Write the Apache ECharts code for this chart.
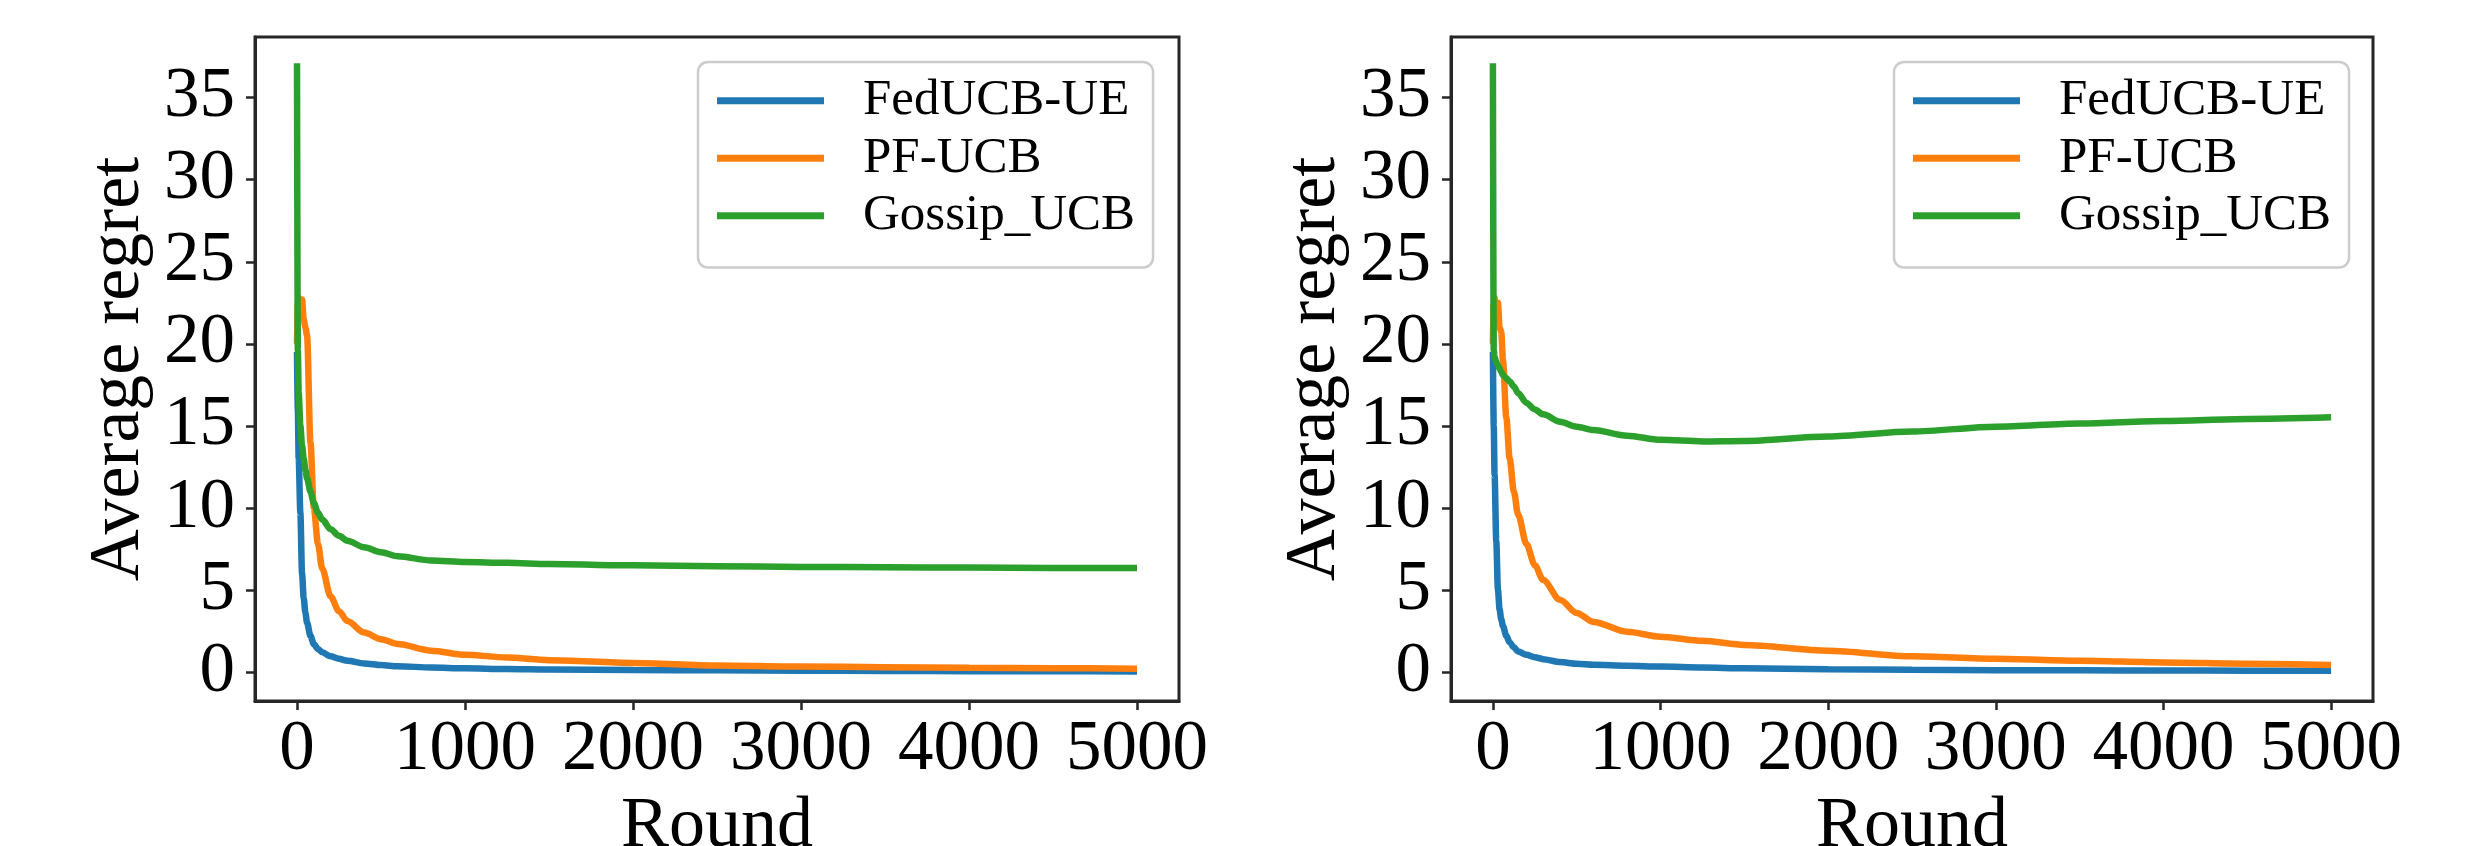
<!DOCTYPE html>
<html>
<head>
<meta charset="utf-8">
<script src="https://cdn.jsdelivr.net/npm/echarts@6/dist/echarts.min.js"></script>
<style>
  html, body { margin: 0; padding: 0; background: #ffffff; }
  #chart { width: 2490px; height: 846px; }
</style>
</head>
<body>
<div id="chart"></div>
<script>
// ---- data ----
const seriesNames = ['FedUCB-UE', 'PF-UCB', 'Gossip_UCB'];
const xTicks = [0, 1000, 2000, 3000, 4000, 5000];
const yTicks = [0, 5, 10, 15, 20, 25, 30, 35];

const roundsL = [0, 5, 10, 20, 30, 40, 50, 60, 80, 100, 125, 150, 200, 250, 300, 400, 500, 600, 800, 1000, 1250, 1500, 2000, 2500, 3000, 3500, 4000, 4500, 5000];
const fedL    = [19.5, 16, 13, 9.7, 6.0, 4.5, 3.6, 3.0, 2.2, 1.7, 1.4, 1.2, 0.95, 0.8, 0.68, 0.52, 0.42, 0.35, 0.27, 0.22, 0.18, 0.15, 0.12, 0.1, 0.08, 0.06, 0.05, 0.04, 0.03];
const pfL     = [20, 22.5, 22.8, 22.0, 22.7, 21.5, 21.0, 20.5, 14, 10, 7.8, 6.3, 4.6, 3.7, 3.1, 2.4, 2.0, 1.7, 1.3, 1.05, 0.88, 0.72, 0.55, 0.4, 0.33, 0.29, 0.25, 0.23, 0.2];
const gossipL = [37.1, 19.6, 17, 15, 13.8, 13, 12.3, 11.8, 11, 10.3, 9.7, 9.3, 8.7, 8.3, 8.0, 7.6, 7.3, 7.05, 6.8, 6.7, 6.65, 6.58, 6.5, 6.45, 6.4, 6.38, 6.36, 6.34, 6.33];

const roundsR = [0, 5, 10, 20, 30, 40, 50, 60, 80, 100, 125, 150, 200, 250, 300, 400, 500, 600, 800, 1000, 1250, 1500, 2000, 2500, 3000, 3500, 4000, 4500, 5000];
const fedR    = [19.5, 15, 12, 8, 5, 3.8, 3.2, 2.8, 2.2, 1.8, 1.5, 1.25, 1.05, 0.9, 0.78, 0.6, 0.5, 0.44, 0.38, 0.33, 0.27, 0.22, 0.17, 0.13, 0.11, 0.1, 0.09, 0.08, 0.07];
const pfR     = [20, 22.5, 22.8, 22.0, 22.5, 21.0, 20.7, 19, 15.5, 13, 11, 9.6, 7.8, 6.5, 5.6, 4.4, 3.6, 3.05, 2.45, 2.15, 1.9, 1.65, 1.3, 0.95, 0.8, 0.68, 0.58, 0.5, 0.43];
const gossipR = [37.1, 19.6, 19.2, 18.9, 18.7, 18.5, 18.3, 18.1, 17.9, 17.7, 17.4, 17.0, 16.4, 16.0, 15.7, 15.25, 14.95, 14.75, 14.4, 14.15, 14.05, 14.08, 14.35, 14.65, 14.95, 15.15, 15.3, 15.42, 15.52];

// ---- styling ----
const colors = ['#1f77b4', '#ff7f0e', '#2ca02c'];
const FONT = '"Liberation Serif", "Times New Roman", serif';
const AXIS_COLOR = '#262626';

function pairs(xs, ys) { return xs.map((x, i) => [x, ys[i]]); }

const grids = [
  { left: 255, top: 37, width: 924, height: 664 },
  { left: 1451, top: 37, width: 922, height: 664 }
];

function makeXAxis(gi) {
  return {
    type: 'value', gridIndex: gi, min: -250, max: 5250,
    name: 'Round', nameLocation: 'middle', nameGap: 84,
    nameTextStyle: { fontFamily: FONT, fontSize: 72, color: '#000' },
    axisLine: { show: true, onZero: false, lineStyle: { color: AXIS_COLOR, width: 3 } },
    axisTick: { show: true, inside: false, length: 9, customValues: xTicks, lineStyle: { color: AXIS_COLOR, width: 2.5 } },
    axisLabel: { show: true, customValues: xTicks, margin: 14, fontFamily: FONT, fontSize: 71, color: '#000',
                 formatter: v => String(v) },
    splitLine: { show: false }
  };
}
function makeYAxis(gi) {
  return {
    type: 'value', gridIndex: gi, min: -1.77, max: 38.7,
    name: 'Average regret', nameLocation: 'middle', nameGap: 100, nameRotate: 90,
    nameTextStyle: { fontFamily: FONT, fontSize: 72, color: '#000' },
    axisLine: { show: true, onZero: false, lineStyle: { color: AXIS_COLOR, width: 3 } },
    axisTick: { show: true, inside: false, length: 9, customValues: yTicks, lineStyle: { color: AXIS_COLOR, width: 2.5 } },
    axisLabel: { show: true, customValues: yTicks, margin: 20, fontFamily: FONT, fontSize: 71, color: '#000',
                 formatter: v => String(v) },
    splitLine: { show: false }
  };
}
function makeLegend(left) {
  return {
    orient: 'vertical', left: left, top: 62,
    data: seriesNames,
    icon: 'rect', itemWidth: 107, itemHeight: 7, itemGap: 0,
    padding: [10, 18, 23, 19],
    backgroundColor: 'rgba(255,255,255,0.8)',
    borderColor: '#cccccc', borderWidth: 2.5, borderRadius: 10,
    textStyle: { fontFamily: FONT, fontSize: 51, color: '#000', lineHeight: 57.5, padding: [0, 0, 0, 34] }
  };
}
function makeSeries(name, gi, data, ci) {
  return {
    name: name, type: 'line', xAxisIndex: gi, yAxisIndex: gi,
    data: data, symbol: 'none', smooth: 0.3, smoothMonotone: 'x',
    lineStyle: { color: colors[ci], width: 6.5 },
    itemStyle: { color: colors[ci] },
    emphasis: { disabled: true }, animation: false
  };
}

const chart = echarts.init(document.getElementById('chart'), null, { renderer: 'canvas' });
chart.setOption({
  backgroundColor: '#ffffff',
  animation: false,
  grid: grids.map(g => Object.assign({ show: true, borderColor: AXIS_COLOR, borderWidth: 3,
                                       backgroundColor: 'transparent', containLabel: false,
                                       outerBoundsMode: 'none' }, g)),
  xAxis: [makeXAxis(0), makeXAxis(1)],
  yAxis: [makeYAxis(0), makeYAxis(1)],
  legend: [makeLegend(698), makeLegend(1894)],
  series: [
    makeSeries(seriesNames[0], 0, pairs(roundsL, fedL), 0),
    makeSeries(seriesNames[1], 0, pairs(roundsL, pfL), 1),
    makeSeries(seriesNames[2], 0, pairs(roundsL, gossipL), 2),
    makeSeries(seriesNames[0], 1, pairs(roundsR, fedR), 0),
    makeSeries(seriesNames[1], 1, pairs(roundsR, pfR), 1),
    makeSeries(seriesNames[2], 1, pairs(roundsR, gossipR), 2)
  ]
});
</script>
</body>
</html>
